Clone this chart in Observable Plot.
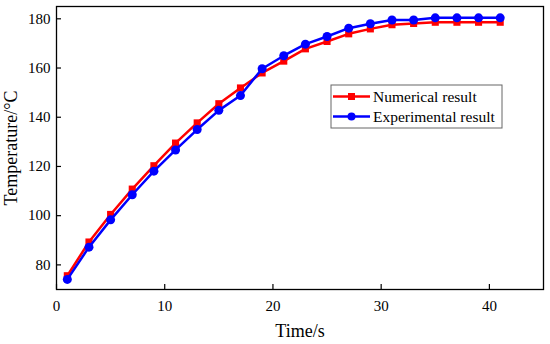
<!DOCTYPE html>
<html><head>
<meta charset="utf-8">
<script src="https://cdn.jsdelivr.net/npm/d3@7"></script>
<script src="https://cdn.jsdelivr.net/npm/@observablehq/plot@0.6"></script>
<style>body{margin:0;background:#fff}</style>
</head><body><div id="chart"></div>
<script>
const time = [1,3,5,7,9,11,13,15,17,19,21,23,25,27,29,31,33,35,37,39,41];
const numerical = [75.6,89.3,100.5,110.8,120.3,129.5,137.7,145.5,151.9,158.0,162.8,167.8,170.8,173.9,175.9,177.6,178.1,178.6,178.6,178.6,178.6];
const experimental = [74.1,87.2,98.3,108.5,118.1,126.7,135.0,142.8,148.8,159.7,165.0,169.7,172.8,176.2,178.0,179.5,179.5,180.4,180.4,180.4,180.4];
const xTicks = [0,10,20,30,40];
const yTicks = [80,100,120,140,160,180];
const seriesNames = ["Numerical result","Experimental result"];
const seriesColors = ["#ff0000","#0000ff"];
const xLabel = "Time/s";
const yLabel = "Temperature/°C";

const numRows = time.map((t,i)=>({t, v:numerical[i]}));
const expRows = time.map((t,i)=>({t, v:experimental[i]}));

const font = "'Liberation Serif', 'Times New Roman', serif";
const chart = Plot.plot({
  width: 550, height: 344,
  marginLeft: 56, marginTop: 6, marginRight: 7, marginBottom: 55,
  style: {fontFamily: font, background: "white", color: "black"},
  x: {domain: [0,45]},
  y: {domain: [70,185]},
  marks: [
    Plot.axisX({ticks: xTicks, tickSize: -5, tickPadding: 16, fontSize: 15, label: null, strokeWidth: 1.2}),
    Plot.axisY({ticks: yTicks, tickSize: -5, tickPadding: 11, fontSize: 15, label: null, strokeWidth: 1.2}),
    Plot.frame({stroke: "black", strokeWidth: 1.3}),
    Plot.line(numRows, {x: "t", y: "v", stroke: seriesColors[0], strokeWidth: 2.5}),
    Plot.dot(numRows, {x: "t", y: "v", symbol: "square", fill: seriesColors[0], r: 4}),
    Plot.line(expRows, {x: "t", y: "v", stroke: seriesColors[1], strokeWidth: 2.5}),
    Plot.dot(expRows, {x: "t", y: "v", symbol: "circle", fill: seriesColors[1], r: 4.5}),
    Plot.text([xLabel], {frameAnchor: "bottom", dy: 42, fontSize: 18, lineAnchor: "middle", textAnchor: "middle"}),
    Plot.text([yLabel], {frameAnchor: "left", dx: -45, rotate: -90, fontSize: 18, lineAnchor: "middle", textAnchor: "middle"})
  ]
});
document.getElementById("chart").appendChild(chart);

// legend
const svg = d3.select(chart);
const lg = svg.append("g").attr("font-family", font).attr("font-size", 15.5).attr("text-anchor", "start");
lg.append("rect").attr("x", 331).attr("y", 85).attr("width", 171).attr("height", 43)
  .attr("fill", "white").attr("stroke", "#666").attr("stroke-width", 1);
seriesNames.forEach((name, i) => {
  const y = 96.5 + i * 20;
  const g = lg.append("g");
  g.append("line").attr("x1", 333).attr("x2", 370).attr("y1", y).attr("y2", y)
    .attr("stroke", seriesColors[i]).attr("stroke-width", 2.5);
  if (i === 0) g.append("rect").attr("x", 351.5 - 3.5).attr("y", y - 3.5).attr("width", 7).attr("height", 7).attr("fill", seriesColors[i]);
  else g.append("circle").attr("cx", 351.5).attr("cy", y).attr("r", 4).attr("fill", seriesColors[i]);
  g.append("text").attr("x", 373).attr("y", y).attr("dy", "0.35em").attr("text-anchor", "start").attr("fill", "black").text(name);
});
</script>
</body></html>
